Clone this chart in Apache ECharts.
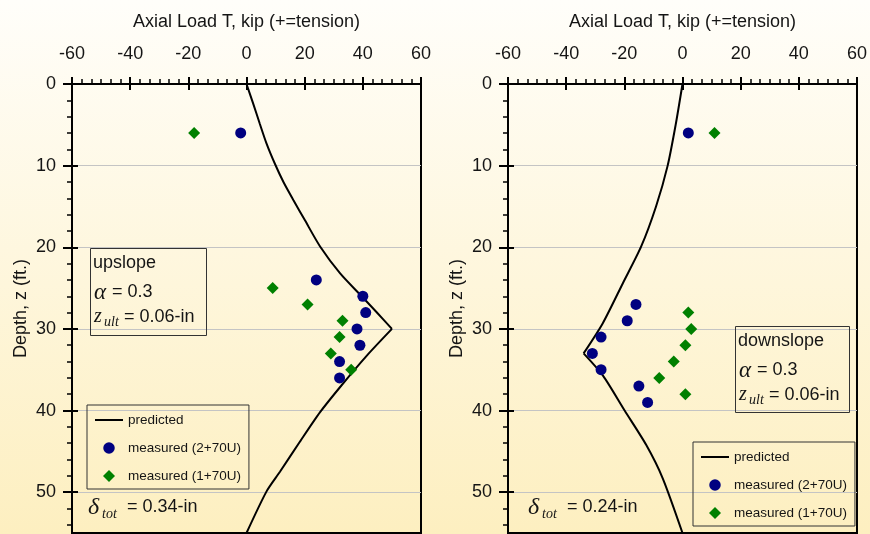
<!DOCTYPE html>
<html><head><meta charset="utf-8">
<script src="https://cdn.jsdelivr.net/npm/echarts@6/dist/echarts.min.js"></script>
<style>html,body{margin:0;padding:0;background:#fff;} #c{width:870px;height:534px;}</style>
</head><body><div id="c"></div>
<script>
// ---- data ----
const loadTicks = [-60, -40, -20, 0, 20, 40, 60];
const depthTicks = [0, 10, 20, 30, 40, 50];
const depthMinorTicks = [0, 2, 4, 6, 8, 10, 12, 14, 16, 18, 20, 22, 24, 26, 28, 30, 32, 34, 36, 38, 40, 42, 44, 46, 48, 50, 52, 54];

// upslope: predicted curve above / below its peak
const upPredLoadTop  = [0, 2.3, 4.6, 6.9, 9.8, 12.7, 16.1, 20.1, 25.3, 32.2, 39.6, 44.6, 50];
const upPredDepthTop = [0, 2.4, 4.9, 7.3, 9.8, 12, 14.2, 16.7, 19.9, 23.2, 26, 27.9, 30];
const upPredLoadBot  = [50, 41.3, 32.7, 25.3, 18.4, 11.5, 6.9, 0];
const upPredDepthBot = [30, 33.3, 36.9, 40.2, 43.8, 47.5, 49.9, 55];
const upM2Load  = [-2, 24, 40, 41, 38, 39, 32, 32];
const upM2Depth = [6, 24, 26, 28, 30, 32, 34, 36];
const upM1Load  = [-18, 9, 21, 33, 32, 29, 36];
const upM1Depth = [6, 25, 27, 29, 31, 33, 35];

// downslope
const downPredLoadTop  = [0, -2.3, -5.1, -9.1, -14.2, -20.5, -27.4, -34];
const downPredDepthTop = [0, 4.9, 10, 15, 19.9, 24.4, 29.3, 33];
const downPredLoadBot  = [-34, -27.4, -19.9, -12.5, -6.8, 0];
const downPredDepthBot = [33, 35.7, 40, 44.2, 48.3, 55];
const downM2Load  = [2, -16, -19, -28, -31, -28, -15, -12];
const downM2Depth = [6, 27, 29, 31, 33, 35, 37, 39];
const downM1Load  = [11, 2, 3, 1, -3, -8, 1];
const downM1Depth = [6, 28, 30, 32, 34, 36, 38];

const seriesNames = ['predicted', 'measured (2+70U)', 'measured (1+70U)'];
const xTitle = 'Axial Load T, kip (+=tension)';
const yTitle = 'Depth, z (ft.)';

// ---- styling ----
const F = "'Liberation Sans',Arial,sans-serif";
const SERIF = "'Liberation Serif','DejaVu Serif',serif";
const TXT = '#151515';
const zip = (a, b) => a.map((v, i) => [v, b[i]]);

function xAxes(gi) {
  return [
    { gridIndex: gi, type: 'value', position: 'top', min: -60, max: 60, interval: 20,
      name: xTitle, nameLocation: 'middle', nameGap: 53,
      nameTextStyle: { fontFamily: F, fontSize: 18, color: TXT },
      axisLine: { show: true, onZero: false, lineStyle: { color: '#000', width: 2 } },
      axisTick: { show: true, inside: false, length: 7, lineStyle: { color: '#000', width: 2 } },
      minorTick: { show: true, splitNumber: 6, length: 5, lineStyle: { color: '#000', width: 1.5 } },
      axisLabel: { fontFamily: F, fontSize: 18, color: TXT, margin: 21, customValues: loadTicks },
      splitLine: { show: false } },
    { gridIndex: gi, type: 'value', position: 'top', min: -60, max: 60, interval: 20,
      axisLine: { show: false, onZero: false },
      axisTick: { show: true, inside: true, length: 6, lineStyle: { color: '#000', width: 2 } },
      axisLabel: { show: false }, splitLine: { show: false } }
  ];
}
function yAxes(gi) {
  return [
    { gridIndex: gi, type: 'value', position: 'left', inverse: true, min: 0, max: 55, interval: 10,
      name: yTitle, nameLocation: 'middle', nameGap: 42,
      nameTextStyle: { fontFamily: F, fontSize: 18, color: TXT },
      axisLine: { show: true, onZero: false, lineStyle: { color: '#000', width: 2 } },
      axisTick: { show: true, inside: false, length: 9, customValues: depthTicks, lineStyle: { color: '#000', width: 2 } },
      axisLabel: { fontFamily: F, fontSize: 18, color: TXT, margin: 16, customValues: depthTicks },
      splitLine: { show: true, lineStyle: { color: '#c4c4c4', width: 1 } } },
    { gridIndex: gi, type: 'value', position: 'left', inverse: true, min: 0, max: 55, interval: 10,
      axisLine: { show: false, onZero: false },
      axisTick: { show: true, inside: true, length: 6, customValues: depthTicks, lineStyle: { color: '#000', width: 2 } },
      axisLabel: { show: false }, splitLine: { show: false } },
    { gridIndex: gi, type: 'value', position: 'left', inverse: true, min: 0, max: 55, interval: 2,
      axisLine: { show: false, onZero: false },
      axisTick: { show: true, inside: false, length: 5, customValues: depthMinorTicks, lineStyle: { color: '#000', width: 1.5 } },
      axisLabel: { show: false }, splitLine: { show: false } }
  ];
}
function predLine(xi, yi, l, d) {
  return { name: seriesNames[0], type: 'line', xAxisIndex: xi, yAxisIndex: yi, data: zip(l, d),
    symbol: 'none', smooth: 0.25,
    lineStyle: { color: '#000', width: 2 }, itemStyle: { color: '#000' }, z: 3, silent: true };
}
function panelSeries(xi, yi, plt, pdt, plb, pdb, m2l, m2d, m1l, m1d) {
  return [
    predLine(xi, yi, plt, pdt),
    predLine(xi, yi, plb, pdb),
    { name: seriesNames[1], type: 'scatter', xAxisIndex: xi, yAxisIndex: yi, data: zip(m2l, m2d),
      symbol: 'circle', symbolSize: 11, itemStyle: { color: '#000080', opacity: 1 }, z: 4 },
    { name: seriesNames[2], type: 'scatter', xAxisIndex: xi, yAxisIndex: yi, data: zip(m1l, m1d),
      symbol: 'diamond', symbolSize: 12, itemStyle: { color: '#008000', opacity: 1 }, z: 4 }
  ];
}
// legend icons: degenerate points widen each path's box to the full 28x12 icon cell
const ICON_LINE = 'path://M0,0L0,0M0,12L0,12M28,0L28,0M0,5L28,5L28,7L0,7Z';
const ICON_CIRCLE = 'path://M0,6L0,6M28,6L28,6M14,0.25A5.75,5.75 0 1 1 14,11.75A5.75,5.75 0 1 1 14,0.25Z';
const ICON_DIAMOND = 'path://M0,6L0,6M28,6L28,6M14,0L20,6L14,12L8,6Z';
function legendAt(left, top) {
  return { orient: 'vertical', left: left, top: top,
    data: [{ name: seriesNames[0], icon: ICON_LINE }, { name: seriesNames[1], icon: ICON_CIRCLE }, { name: seriesNames[2], icon: ICON_DIAMOND }],
    itemWidth: 28, itemHeight: 12, itemGap: 14, padding: [8, 8, 6, 8],
    borderColor: '#333', borderWidth: 1, backgroundColor: 'transparent',
    itemStyle: { borderWidth: 0 },
    textStyle: { fontFamily: F, fontSize: 13.5, color: TXT }, selectedMode: false };
}
function txt(x, y, s, font, size, style) {
  return { type: 'text', left: x, top: y, z: 20,
    style: { text: s, fontFamily: font, fontSize: size, fontStyle: style || 'normal', fill: TXT } };
}
function annot(bx, by, bw, bh, label) {
  return [
    { type: 'rect', left: bx, top: by, z: 19, shape: { width: bw, height: bh },
      style: { fill: 'transparent', stroke: '#333', lineWidth: 1 } },
    txt(bx + 3, by + 6, label, F, 18),
    txt(bx + 4, by + 33, 'α', SERIF, 23, 'italic'),
    txt(bx + 22, by + 35, '= 0.3', F, 18),
    txt(bx + 4, by + 59, 'z', SERIF, 20, 'italic'),
    txt(bx + 14, by + 67, 'ult', SERIF, 14, 'italic'),
    txt(bx + 34, by + 60, '= 0.06-in', F, 18)
  ];
}
function delta(x, y, val) {
  return [
    txt(x, y - 12, 'δ', SERIF, 24, 'italic'),
    txt(x + 14, y - 1, 'tot', SERIF, 14, 'italic'),
    txt(x + 39, y - 10, '= ' + val, F, 18)
  ];
}

const chart = echarts.init(document.getElementById('c'), null, { renderer: 'canvas' });
chart.setOption({
  animation: false,
  backgroundColor: { type: 'linear', x: 0, y: 0, x2: 0, y2: 1,
    colorStops: [{ offset: 0, color: '#fffefa' }, { offset: 1, color: '#fdefc0' }] },
  grid: [
    { left: 72, top: 84, width: 349, height: 449, show: true, borderColor: '#000', borderWidth: 2, backgroundColor: 'transparent' },
    { left: 508, top: 84, width: 350, height: 449, show: true, borderColor: '#000', borderWidth: 2, backgroundColor: 'transparent' }
  ],
  xAxis: [...xAxes(0), ...xAxes(1)],
  yAxis: [...yAxes(0), ...yAxes(1)],
  legend: [legendAt(87, 405), legendAt(693, 442)],
  series: [
    ...panelSeries(0, 0, upPredLoadTop, upPredDepthTop, upPredLoadBot, upPredDepthBot, upM2Load, upM2Depth, upM1Load, upM1Depth),
    ...panelSeries(2, 3, downPredLoadTop, downPredDepthTop, downPredLoadBot, downPredDepthBot, downM2Load, downM2Depth, downM1Load, downM1Depth)
  ],
  graphic: [
    ...annot(90, 248, 116, 87, 'upslope'),
    ...annot(735, 326, 114, 86, 'downslope'),
    ...delta(88, 508, '0.34-in'),
    ...delta(528, 508, '0.24-in')
  ]
});
</script>
</body></html>
